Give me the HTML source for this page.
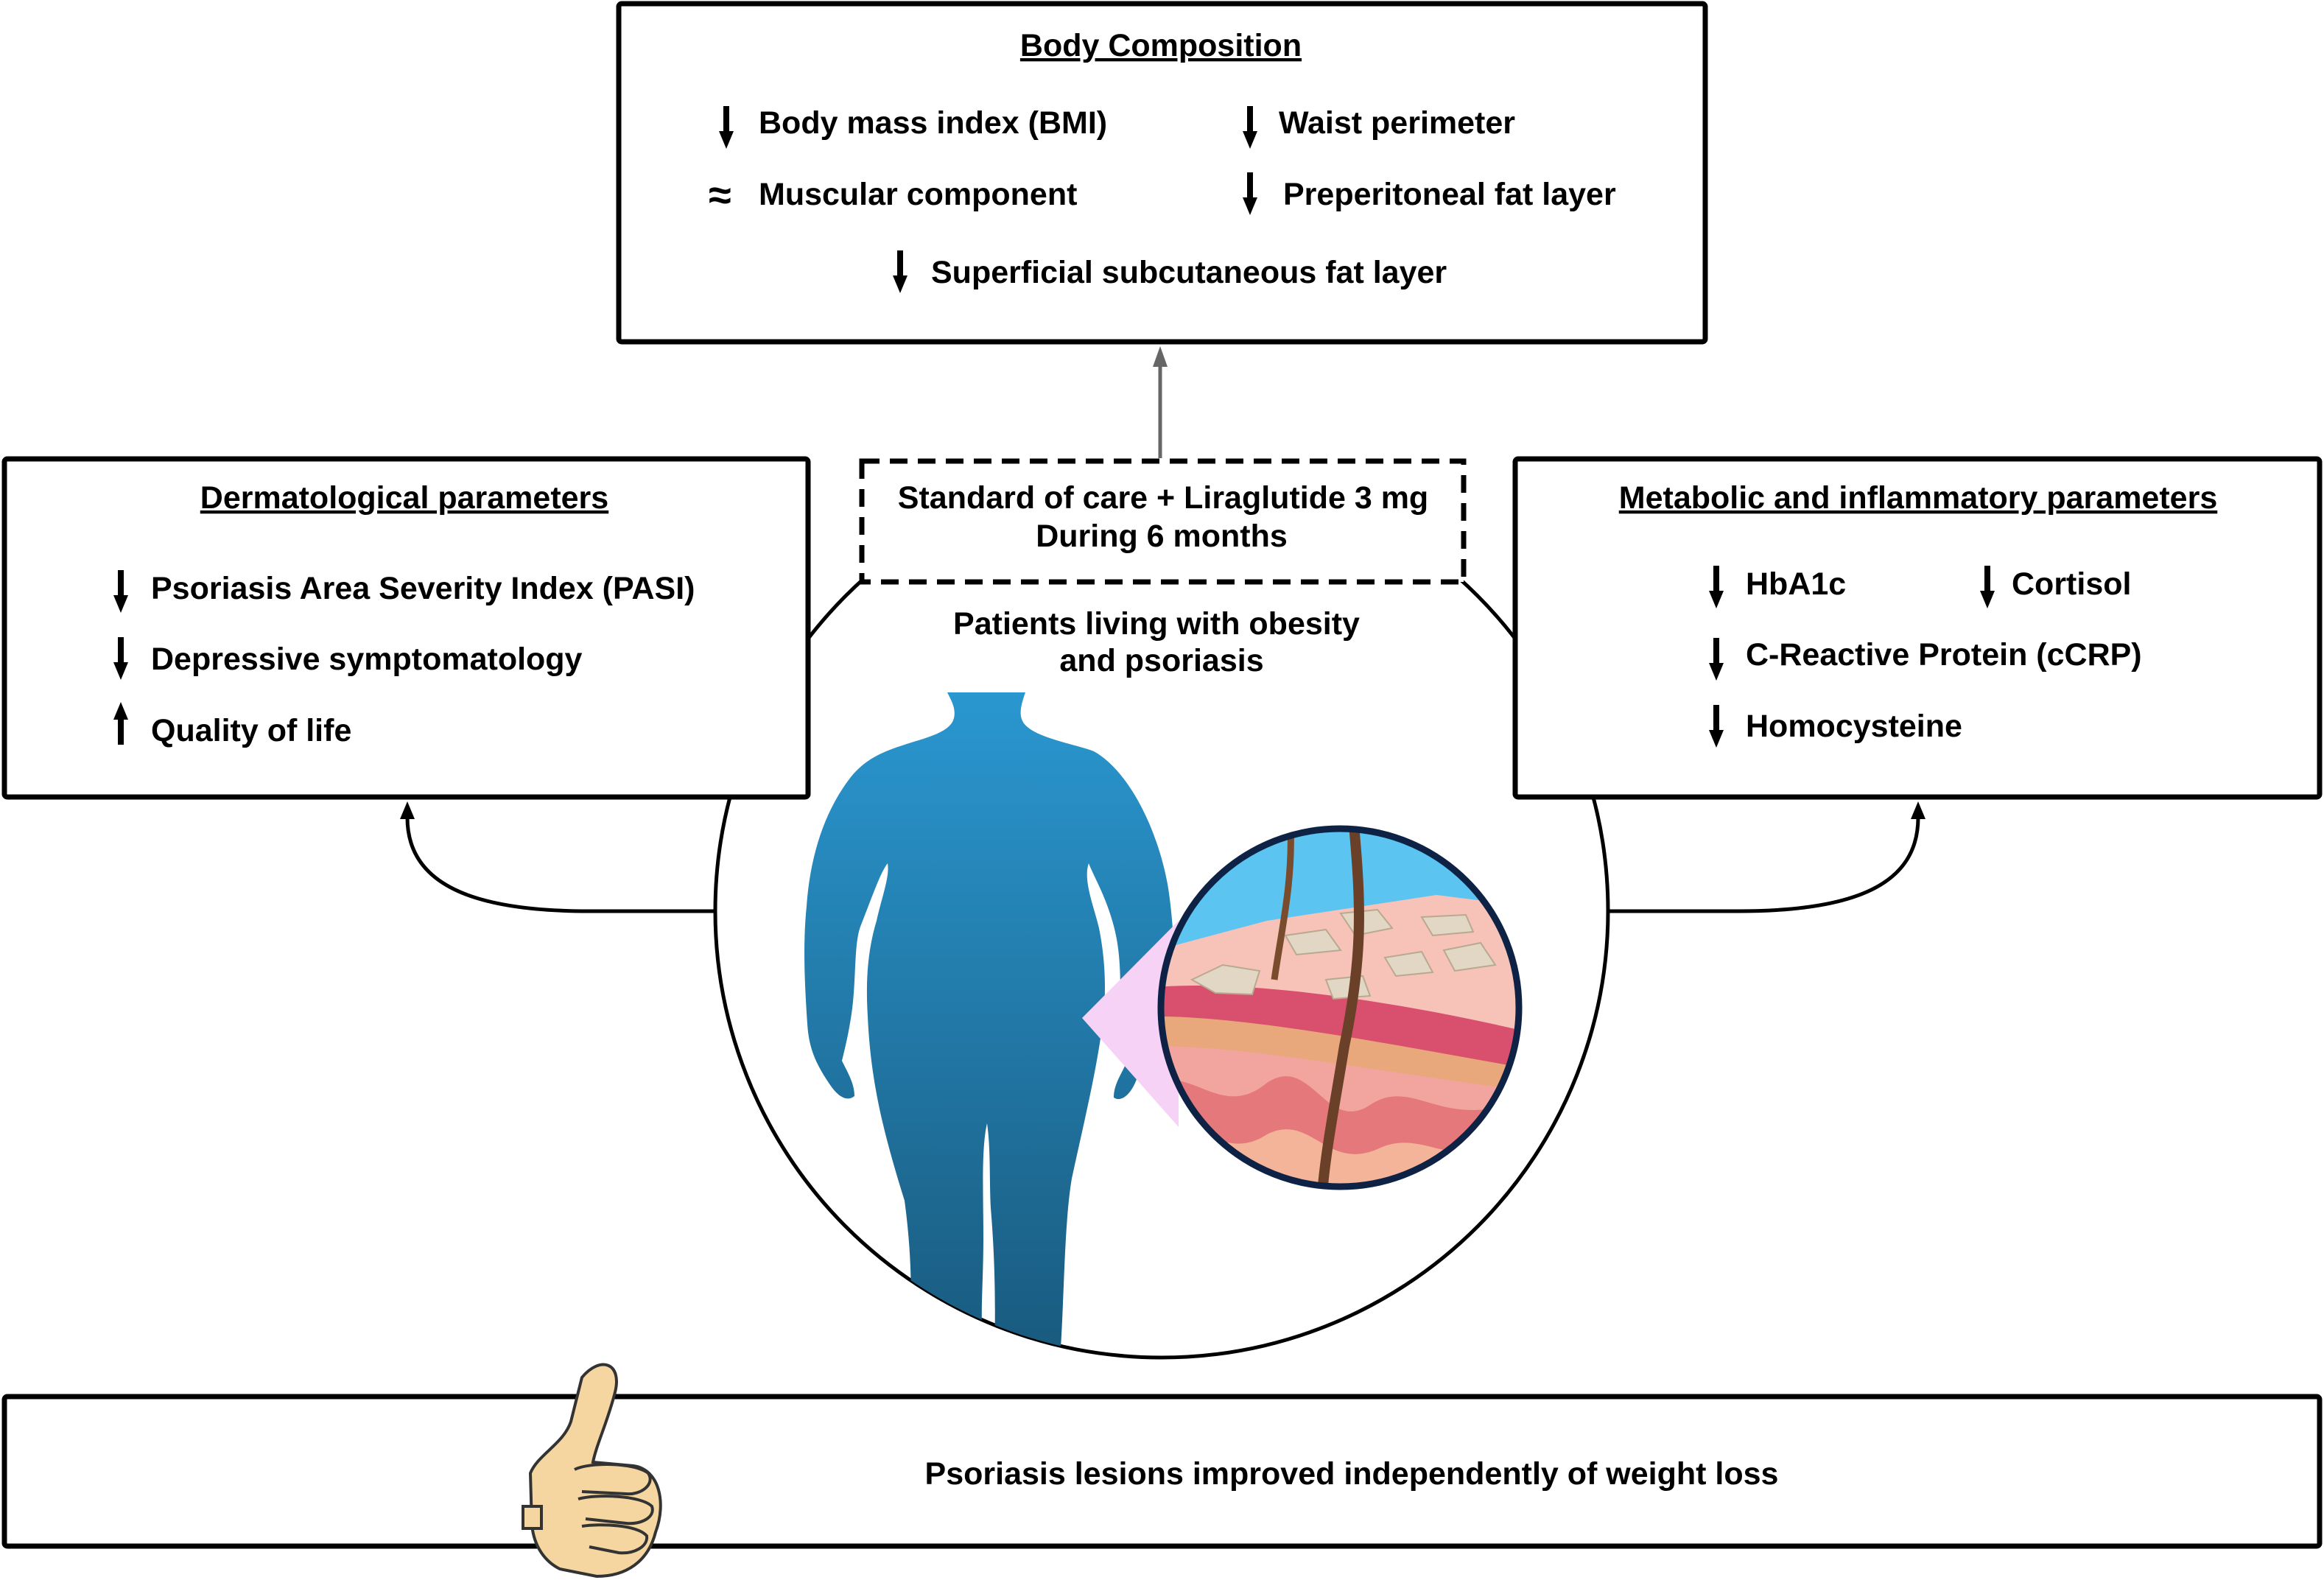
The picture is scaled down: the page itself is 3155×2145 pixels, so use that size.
<!DOCTYPE html>
<html><head><meta charset="utf-8"><style>html,body{margin:0;padding:0;background:#fff}svg{display:block}</style></head>
<body>
<svg width="3155" height="2145" viewBox="0 0 3155 2145" xmlns="http://www.w3.org/2000/svg" font-family="'Liberation Sans', Arial, sans-serif" font-weight="bold" font-size="43">
<defs>
<linearGradient id="bg" x1="0" y1="0" x2="0" y2="1"><stop offset="0" stop-color="#2a97d0"/><stop offset="1" stop-color="#195a7e"/></linearGradient>
<clipPath id="cc"><circle cx="1577" cy="1237" r="606"/></clipPath>
<clipPath id="sk"><circle cx="1819" cy="1368" r="240"/></clipPath>
<g id="da"><line x1="0" y1="-28" x2="0" y2="10" stroke="#000" stroke-width="8"/><polygon points="-10,6 10,6 0,30" fill="#000"/></g>
<g id="ua"><line x1="0" y1="28" x2="0" y2="-10" stroke="#000" stroke-width="8"/><polygon points="-10,-6 10,-6 0,-30" fill="#000"/></g>
</defs>

<circle cx="1577" cy="1237" r="606" fill="#fff" stroke="#000" stroke-width="5"/>

<path d="M971,1237 L800,1237 C640,1237 553,1200 553,1110" fill="none" stroke="#000" stroke-width="5"/>
<polygon points="543,1112 563,1112 553,1088" fill="#000"/>
<path d="M2183,1237 L2360,1237 C2520,1237 2604,1200 2604,1110" fill="none" stroke="#000" stroke-width="5"/>
<polygon points="2594,1112 2614,1112 2604,1088" fill="#000"/>

<line x1="1575" y1="622" x2="1575" y2="495" stroke="#666" stroke-width="5"/>
<polygon points="1565,498 1585,498 1575,470" fill="#666"/>

<rect x="840" y="5" width="1475" height="459" rx="4" fill="#fff" stroke="#000" stroke-width="7"/>
<text x="1576" y="76" text-anchor="middle" text-decoration="underline">Body Composition</text>
<use href="#da" x="986" y="172"/><text x="1030" y="181">Body mass index (BMI)</text>
<use href="#da" x="1697" y="172"/><text x="1736" y="181">Waist perimeter</text>
<text x="962" y="284" font-size="56">≈</text><text x="1030" y="278">Muscular component</text>
<use href="#da" x="1697" y="262"/><text x="1742" y="278">Preperitoneal fat layer</text>
<use href="#da" x="1222" y="368"/><text x="1264" y="384">Superficial subcutaneous fat layer</text>

<rect x="6" y="623" width="1091" height="459" rx="4" fill="#fff" stroke="#000" stroke-width="7"/>
<text x="549" y="690" text-anchor="middle" text-decoration="underline">Dermatological parameters</text>
<use href="#da" x="164" y="802"/><text x="205" y="813">Psoriasis Area Severity Index (PASI)</text>
<use href="#da" x="164" y="893"/><text x="205" y="909">Depressive symptomatology</text>
<use href="#ua" x="164" y="983"/><text x="205" y="1006">Quality of life</text>

<rect x="2057" y="623" width="1092" height="459" rx="4" fill="#fff" stroke="#000" stroke-width="7"/>
<text x="2604" y="690" text-anchor="middle" text-decoration="underline">Metabolic and inflammatory parameters</text>
<use href="#da" x="2330" y="796"/><text x="2370" y="807">HbA1c</text>
<use href="#da" x="2698" y="796"/><text x="2731" y="807">Cortisol</text>
<use href="#da" x="2330" y="894"/><text x="2370" y="903">C-Reactive Protein (cCRP)</text>
<use href="#da" x="2330" y="985"/><text x="2370" y="1000">Homocysteine</text>

<rect x="1170" y="626" width="817" height="164" fill="#fff" stroke="#000" stroke-width="7" stroke-dasharray="24,14"/>
<text x="1579" y="690" text-anchor="middle">Standard of care +  Liraglutide 3 mg</text>
<text x="1577" y="742" text-anchor="middle">During 6 months</text>

<text x="1570" y="861" text-anchor="middle">Patients living with obesity</text>
<text x="1577" y="911" text-anchor="middle">and psoriasis</text>

<g clip-path="url(#cc)">
<path fill="url(#bg)" d="M1286,940 L1392,940 C1385,960 1383,972 1390,982 C1405,1002 1460,1010 1485,1020 C1530,1045 1570,1120 1585,1200 C1592,1240 1595,1300 1595,1330 C1570,1380 1560,1420 1545,1460 C1535,1490 1520,1496 1512,1490 C1512,1470 1525,1455 1530,1440 C1520,1420 1512,1415 1520,1400 C1522,1330 1522,1290 1510,1250 C1500,1215 1485,1190 1478,1172 C1470,1195 1485,1230 1492,1260 C1500,1300 1502,1340 1498,1380 C1490,1450 1470,1530 1455,1600 C1445,1660 1445,1750 1440,1830 L1350,1840 C1352,1760 1350,1700 1345,1640 C1343,1600 1345,1560 1340,1525 C1332,1560 1335,1620 1335,1680 C1335,1730 1332,1770 1333,1800 L1236,1800 C1238,1740 1236,1690 1228,1630 C1200,1540 1182,1470 1178,1380 C1175,1330 1178,1290 1190,1250 C1198,1215 1208,1190 1205,1172 C1195,1185 1185,1215 1168,1258 C1160,1280 1162,1320 1158,1360 C1155,1390 1148,1420 1143,1440 C1150,1455 1160,1470 1160,1488 C1150,1496 1138,1490 1125,1470 C1105,1440 1098,1420 1096,1390 C1092,1330 1090,1280 1095,1230 C1100,1160 1120,1100 1155,1055 C1175,1030 1200,1020 1225,1012 C1255,1002 1290,995 1295,975 C1298,962 1292,952 1286,940 Z"/>
</g>

<polygon points="1469,1382 1600,1250 1600,1530" fill="#f6d2f6"/>

<g clip-path="url(#sk)">
<rect x="1570" y="1120" width="500" height="500" fill="#5bc4f0"/>
<path d="M1570,1290 L1720,1250 L1950,1215 L2070,1230 L2070,1620 L1570,1620 Z" fill="#f7c2b8"/>
<path d="M1570,1340 C1700,1330 1900,1360 2070,1400 L2070,1620 L1570,1620 Z" fill="#d9506e"/>
<path d="M1570,1380 C1700,1380 1900,1420 2070,1450 L2070,1620 L1570,1620 Z" fill="#e9a77c"/>
<path d="M1570,1420 C1700,1420 1900,1460 2070,1480 L2070,1620 L1570,1620 Z" fill="#f2a59e"/>
<path d="M1570,1470 C1620,1450 1660,1520 1720,1470 C1780,1430 1800,1540 1860,1500 C1920,1460 1960,1540 2070,1490 L2070,1620 L1570,1620 Z" fill="#e5787a"/>
<path d="M1570,1530 C1620,1510 1660,1580 1720,1540 C1780,1510 1800,1590 1870,1560 C1930,1530 1970,1590 2070,1560 L2070,1620 L1570,1620 Z" fill="#f3b49a"/>
<g fill="#e2d7c4" stroke="#b8a990" stroke-width="2">
<polygon points="1618,1330 1660,1310 1710,1318 1700,1350 1650,1348"/>
<polygon points="1745,1270 1800,1262 1820,1290 1760,1296"/>
<polygon points="1820,1240 1870,1235 1890,1260 1840,1270"/>
<polygon points="1880,1300 1930,1292 1945,1320 1895,1325"/>
<polygon points="1930,1245 1990,1242 2000,1265 1945,1270"/>
<polygon points="1960,1290 2010,1280 2030,1310 1975,1318"/>
<polygon points="1800,1330 1850,1325 1860,1352 1810,1356"/>
</g>
<path d="M1752,1120 C1755,1200 1740,1260 1730,1330" stroke="#7a4c2e" stroke-width="9" fill="none"/>
<path d="M1838,1120 C1848,1230 1850,1300 1825,1420 C1812,1500 1800,1560 1795,1620" stroke="#6b4028" stroke-width="14" fill="none"/>
</g>
<circle cx="1819" cy="1368" r="243" fill="none" stroke="#0d2244" stroke-width="9"/>

<rect x="6" y="1896" width="3143" height="203" rx="4" fill="#fff" stroke="#000" stroke-width="7"/>
<text x="1835" y="2015" text-anchor="middle">Psoriasis lesions improved independently of weight loss</text>

<g stroke="#333" stroke-width="4" fill="#f6d6a0">
<path d="M790,1870 C815,1840 845,1850 835,1890 C825,1930 810,1960 805,1985 L860,1990 C895,1995 905,2040 890,2080 C880,2120 850,2140 810,2140 L760,2130 C740,2120 725,2100 722,2070 L720,2000 C730,1975 765,1960 775,1930 Z"/>
<path d="M780,1995 C800,1985 860,1985 880,2000 C890,2015 870,2030 850,2028 L790,2025"/>
<path d="M785,2035 C810,2028 870,2030 885,2045 C890,2060 870,2070 850,2068 L795,2062"/>
<path d="M790,2072 C815,2068 865,2070 878,2085 C880,2100 860,2110 840,2108 L800,2100"/>
<path d="M710,2045 L735,2045 L735,2075 L710,2075 Z"/>
</g>
</svg>
</body></html>
